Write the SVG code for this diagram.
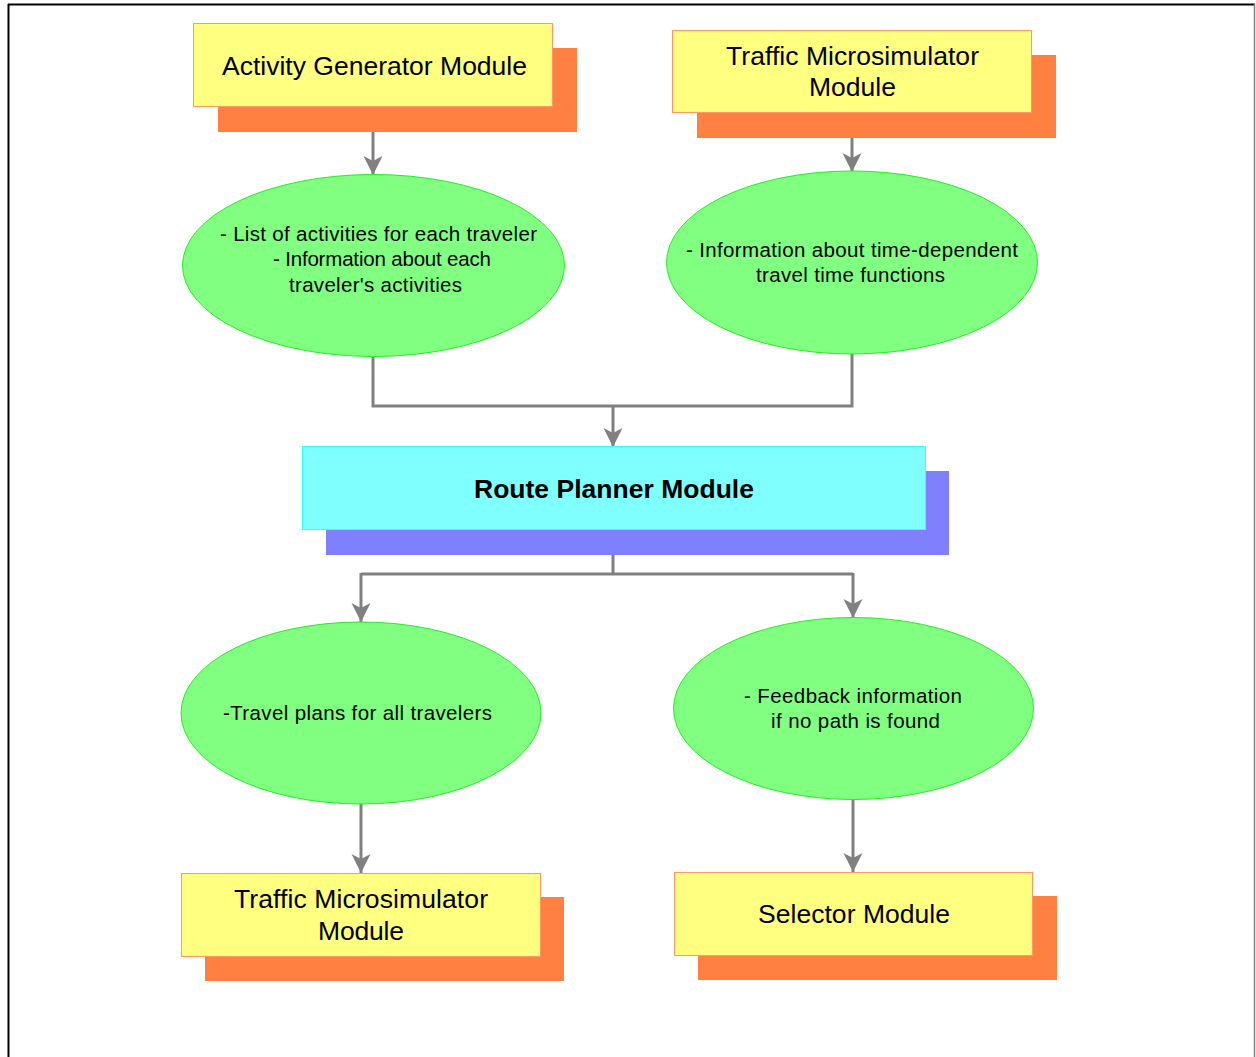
<svg xmlns="http://www.w3.org/2000/svg" width="1256" height="1057" viewBox="0 0 1256 1057">
  <style>
    .label { font-family: "Liberation Sans", Arial, sans-serif; fill: #000000; text-anchor: middle; }
    .box-text { font-size: 26.5px; }
    .bubble-text { font-size: 20.5px; }
    .bold { font-weight: bold; }
    .module { fill: #FFFF80; stroke: #FF9966; stroke-width: 1; }
    .module-shadow { fill: #FF8040; }
    .core { fill: #80FFFF; stroke: #33FFFF; stroke-width: 1; }
    .core-shadow { fill: #8080FF; }
    .bubble { fill: #80FF80; stroke: #22EE22; stroke-width: 1; }
    .wire { fill: none; stroke: #808080; stroke-width: 3; }
    .arrow { fill: none; stroke: #808080; stroke-width: 3; marker-end: url(#head); }
  </style>
  <defs>
    <marker id="head" markerUnits="userSpaceOnUse" markerWidth="20" markerHeight="20" viewBox="0 0 20 20" refX="19" refY="10" orient="auto">
      <path d="M0,0.5 L5,10 L0,19.5 L19,10 Z" fill="#808080"/>
    </marker>
  </defs>

  <rect x="0" y="0" width="1256" height="1057" fill="#FFFFFF"/>

  <!-- page frame -->
  <g id="frame">
    <line x1="8" y1="4.5" x2="1255" y2="4.5" stroke="#000000" stroke-width="2"/>
    <line x1="8.5" y1="4" x2="8.5" y2="1057" stroke="#000000" stroke-width="2"/>
    <line x1="1254.5" y1="4" x2="1254.5" y2="1057" stroke="#808080" stroke-width="1.5"/>
  </g>

  <!-- connectors -->
  <g id="connectors">
    <line class="arrow" x1="373" y1="107" x2="373" y2="175"/>
    <line class="arrow" x1="852" y1="113" x2="852" y2="172"/>
    <polyline class="wire" points="373,357 373,406 852,406 852,354"/>
    <line class="arrow" x1="613" y1="406" x2="613" y2="447"/>
    <line class="wire" x1="613" y1="526" x2="613" y2="574"/>
    <polyline class="wire" points="361,574 853,574"/>
    <line class="arrow" x1="361" y1="573" x2="361" y2="622"/>
    <line class="arrow" x1="853" y1="573" x2="853" y2="618"/>
    <line class="arrow" x1="361" y1="804" x2="361" y2="873"/>
    <line class="arrow" x1="853" y1="799" x2="853" y2="872"/>
  </g>

  <!-- top row modules -->
  <g id="activity-generator">
    <rect class="module-shadow" x="218" y="48" width="359" height="84"/>
    <rect class="module" x="193.5" y="23.5" width="359" height="83"/>
    <text class="label box-text" x="374.5" y="75" textLength="305">Activity Generator Module</text>
  </g>

  <g id="traffic-microsimulator-top">
    <rect class="module-shadow" x="697" y="55" width="359" height="83"/>
    <rect class="module" x="672.5" y="30.5" width="359" height="82"/>
    <text class="label box-text" x="852.5" y="65" textLength="253">Traffic Microsimulator</text>
    <text class="label box-text" x="852.5" y="96" textLength="87">Module</text>
  </g>

  <!-- inputs to the route planner -->
  <g id="activities-info">
    <ellipse class="bubble" cx="373.5" cy="265.5" rx="191" ry="91"/>
    <text class="label bubble-text" x="378.5" y="241" textLength="317">- List of activities for each traveler</text>
    <text class="label bubble-text" x="382" y="266" textLength="218">- Information about each</text>
    <text class="label bubble-text" x="375.5" y="292" textLength="173">traveler's activities</text>
  </g>

  <g id="travel-time-info">
    <ellipse class="bubble" cx="852" cy="262.5" rx="185.5" ry="91.5"/>
    <text class="label bubble-text" x="852" y="257" textLength="332">- Information about time-dependent</text>
    <text class="label bubble-text" x="850.5" y="282" textLength="189">travel time functions</text>
  </g>

  <!-- central module -->
  <g id="route-planner">
    <rect class="core-shadow" x="326" y="471" width="623" height="84"/>
    <rect class="core" x="302.5" y="446.5" width="623" height="83"/>
    <text class="label box-text bold" x="614" y="498" textLength="280">Route Planner Module</text>
  </g>

  <!-- outputs of the route planner -->
  <g id="travel-plans">
    <ellipse class="bubble" cx="361" cy="713" rx="180" ry="91"/>
    <text class="label bubble-text" x="357.5" y="720" textLength="269">-Travel plans for all travelers</text>
  </g>

  <g id="feedback-info">
    <ellipse class="bubble" cx="853.5" cy="708.5" rx="180" ry="91"/>
    <text class="label bubble-text" x="853" y="703" textLength="218">- Feedback information</text>
    <text class="label bubble-text" x="855.5" y="728" textLength="169">if no path is found</text>
  </g>

  <!-- bottom row modules -->
  <g id="traffic-microsimulator-bottom">
    <rect class="module-shadow" x="205" y="897" width="359" height="84"/>
    <rect class="module" x="181.5" y="873.5" width="359" height="83"/>
    <text class="label box-text" x="361" y="908" textLength="254">Traffic Microsimulator</text>
    <text class="label box-text" x="361" y="940" textLength="86">Module</text>
  </g>

  <g id="selector">
    <rect class="module-shadow" x="698" y="896" width="359" height="84"/>
    <rect class="module" x="674.5" y="872.5" width="358" height="83"/>
    <text class="label box-text" x="854" y="923" textLength="192">Selector Module</text>
  </g>
</svg>
